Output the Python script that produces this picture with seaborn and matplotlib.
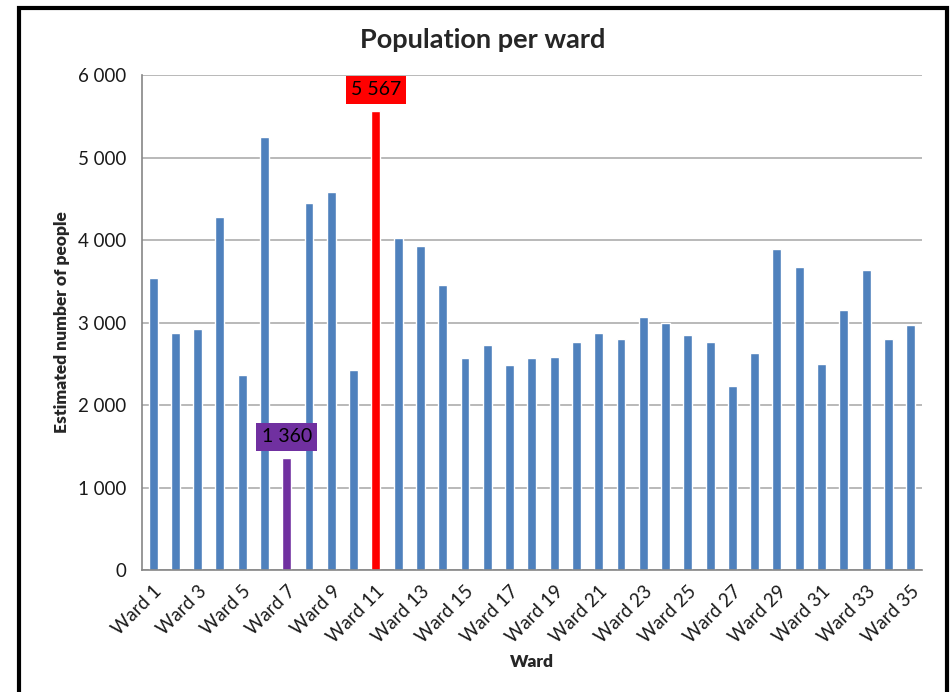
import matplotlib
matplotlib.use("Agg")
import matplotlib.pyplot as plt
from matplotlib.patches import Rectangle
from matplotlib.ticker import FuncFormatter, FixedLocator
import seaborn as sns
import pandas as pd

wards = [f"Ward {i}" for i in range(1, 36)]
population = [3540, 2868, 2921, 4280, 2362, 5243, 1360, 4446, 4580, 2424,
              5567, 4021, 3924, 3458, 2566, 2732, 2485, 2566, 2578, 2760,
              2877, 2804, 3063, 2994, 2845, 2760, 2236, 2626, 3890, 3672,
              2496, 3147, 3640, 2804, 2965]
highlight_max = "Ward 11"
highlight_min = "Ward 7"

BLUE = "#4F81BD"
RED = "#FF0000"
PURPLE = "#7030A0"
GRID = "#B3B3B3"
AXIS = "#868686"

sns.set_theme(style="white")
plt.rcParams["font.family"] = ["Lato", "DejaVu Sans"]

df = pd.DataFrame({"ward": wards, "population": population})
colors = {w: (RED if w == highlight_max else PURPLE if w == highlight_min else BLUE)
          for w in wards}

fig = plt.figure(figsize=(9.5, 6.92), dpi=100)
ax = fig.add_axes([0.1494, 0.1763, 0.8209, 0.7153])

sns.barplot(data=df, x="ward", y="population", hue="ward", palette=colors,
            legend=False, width=0.4, ax=ax, saturation=1)

ax.set_xlim(-0.5, len(wards) - 0.5)
ax.set_ylim(0, 6000)
ax.set_yticks(range(0, 6001, 1000))
ax.yaxis.set_major_formatter(FuncFormatter(lambda v, p: f"{int(v):,}".replace(",", " ")))
ax.grid(axis="y", color=GRID, linewidth=1.3)
ax.set_axisbelow(True)

# category labels on every second ward, tick marks on every boundary
ax.xaxis.set_major_locator(FixedLocator(range(0, len(wards), 2)))
ax.set_xticklabels(wards[::2], rotation=45, ha="right", rotation_mode="anchor",
                   fontsize=13.5, color="#1a1a1a")
ax.xaxis.set_minor_locator(FixedLocator([i - 0.5 for i in range(len(wards) + 1)]))
ax.tick_params(axis="x", which="major", length=0, pad=9)
ax.tick_params(axis="x", which="minor", length=5, width=1, color=AXIS, direction="out")
ax.tick_params(axis="y", length=5, width=1, color=AXIS, direction="out",
               labelsize=13.5, labelcolor="#1a1a1a", pad=6)

for side in ("top", "right"):
    ax.spines[side].set_visible(False)
for side in ("left", "bottom"):
    ax.spines[side].set_color(AXIS)
    ax.spines[side].set_linewidth(1.2)

ax.set_xlabel("Ward", fontsize=12.5, fontweight="heavy", labelpad=6)
ax.set_ylabel("Estimated number of people", fontsize=12.5, fontweight="heavy", labelpad=6)
fig.text(0.5085, 0.942, "Population per ward", ha="center", va="center",
         fontsize=19.5, fontweight="bold")

# value boxes for the largest and smallest wards
for name, col in ((highlight_max, RED), (highlight_min, PURPLE)):
    i = wards.index(name)
    v = population[i]
    ax.annotate(f"{v:,}".replace(",", " "), xy=(i, v), xytext=(0, 15),
                textcoords="offset points", ha="center", va="center",
                fontsize=14, color="black",
                bbox=dict(boxstyle="square,pad=0.27", fc=col, ec="none"))

# outer chart frame
fig.patches.append(Rectangle((0.0205, -0.005), 0.976, 0.9935, transform=fig.transFigure,
                             fill=False, ec="black", lw=3))

fig.savefig("out.png", dpi=100)
